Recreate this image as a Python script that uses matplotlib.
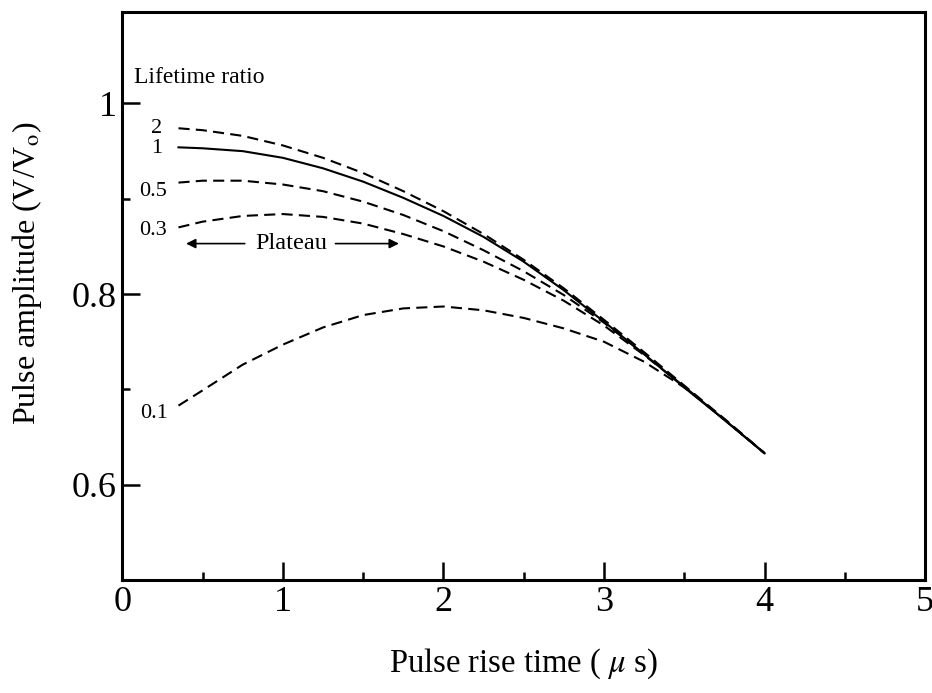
import matplotlib
matplotlib.use("Agg")
import matplotlib.pyplot as plt

plt.rcParams['font.family'] = ['Liberation Serif', 'DejaVu Serif']
plt.rcParams['mathtext.fontset'] = 'stix'
plt.rcParams['lines.scale_dashes'] = False

rise_time = [0.35, 0.5, 0.75, 1.0, 1.25, 1.5, 1.75, 2.0, 2.25, 2.5, 2.75, 3.0, 3.25, 3.5, 3.75, 4.0]

ratio_2 = [0.974, 0.972, 0.966, 0.956, 0.943, 0.927, 0.908, 0.887, 0.863, 0.836, 0.806, 0.773, 0.739, 0.704, 0.669, 0.633]
ratio_1 = [0.954, 0.953, 0.950, 0.943, 0.932, 0.918, 0.901, 0.882, 0.860, 0.834, 0.804, 0.771, 0.737, 0.702, 0.668, 0.633]
ratio_05 = [0.917, 0.919, 0.919, 0.915, 0.908, 0.897, 0.883, 0.866, 0.846, 0.824, 0.799, 0.770, 0.737, 0.703, 0.668, 0.633]
ratio_03 = [0.870, 0.876, 0.882, 0.884, 0.881, 0.874, 0.863, 0.850, 0.834, 0.815, 0.793, 0.767, 0.736, 0.703, 0.668, 0.633]
ratio_01 = [0.683, 0.699, 0.726, 0.747, 0.765, 0.778, 0.785, 0.787, 0.783, 0.775, 0.764, 0.750, 0.729, 0.702, 0.669, 0.633]

series = [("2", ratio_2, '--'), ("1", ratio_1, '-'), ("0.5", ratio_05, '--'),
          ("0.3", ratio_03, '--'), ("0.1", ratio_01, '--')]

x_ticks = [0, 1, 2, 3, 4, 5]
y_ticks = [0.6, 0.8, 1.0]
y_tick_labels = ["0.6", "0.8", "1"]

fig = plt.figure(figsize=(9.32, 6.93), dpi=100)
ax = fig.add_axes([0.1312, 0.163, 0.8615, 0.8197])

for name, vals, ls in series:
    if ls == '--':
        ax.plot(rise_time, vals, color='black', lw=1.5, linestyle=(0, (8, 4.5)))
    else:
        ax.plot(rise_time, vals, color='black', lw=1.5, linestyle='-')

ax.set_xlim(0, 5)
ax.set_ylim(0.5, 1.096)
ax.set_xticks(x_ticks)
ax.set_xticklabels([str(t) for t in x_ticks])
ax.set_yticks(y_ticks)
ax.set_yticklabels(y_tick_labels)
ax.set_xticks([0.5, 1.5, 2.5, 3.5, 4.5], minor=True)
ax.set_yticks([0.7, 0.9], minor=True)
ax.tick_params(which='major', direction='in', length=13, width=1.8, labelsize=26, pad=4)
ax.tick_params(which='minor', direction='in', length=6, width=1.8)
ax.tick_params(axis='y', which='major', pad=4)
for sp in ax.spines.values():
    sp.set_linewidth(2.2)

ax.set_xlabel(r"Pulse rise time ( $\mu$ s)", fontsize=23.5, labelpad=20)
ax.set_ylabel(r"Pulse amplitude (V/V$_\mathrm{o}$)", fontsize=23)
ax.yaxis.set_label_coords(-0.097, 0.54)

# curve labels
ax.text(0.07, 1.027, "Lifetime ratio", fontsize=17, ha='left', va='center')
label_pos = [("2", 0.216, 0.974), ("1", 0.216, 0.953), ("0.5", 0.193, 0.908),
             ("0.3", 0.193, 0.867), ("0.1", 0.197, 0.675)]
for txt, lx, ly in label_pos:
    ax.text(lx, ly, txt, fontsize=16, ha='center', va='center')

# plateau arrow
ax.text(1.05, 0.853, "Plateau", fontsize=17.5, ha='center', va='center')
ax.annotate("", xy=(0.38, 0.853), xytext=(0.78, 0.853),
            arrowprops=dict(arrowstyle='-|>', color='black', lw=1.2, mutation_scale=14))
ax.annotate("", xy=(1.74, 0.853), xytext=(1.31, 0.853),
            arrowprops=dict(arrowstyle='-|>', color='black', lw=1.2, mutation_scale=14))

fig.savefig("out.png", dpi=100)
